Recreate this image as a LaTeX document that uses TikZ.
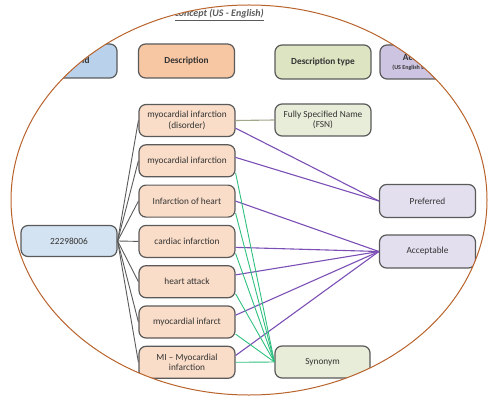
\documentclass[tikz,border=0pt]{standalone}
\usepackage{fontspec}
\setmainfont{Carlito}
\usetikzlibrary{shapes.geometric}
\definecolor{rim}{HTML}{B8632B}
\definecolor{ink}{HTML}{333333}
\definecolor{boxline}{HTML}{5A5A5A}
\definecolor{idhead}{HTML}{B9D1EA}
\definecolor{idfill}{HTML}{D3E3F1}
\definecolor{deschead}{HTML}{F7C6A3}
\definecolor{descfill}{HTML}{FADDC8}
\definecolor{typehead}{HTML}{DCE4C2}
\definecolor{typefill}{HTML}{E8EDD9}
\definecolor{acchead}{HTML}{CCC4E1}
\definecolor{accfill}{HTML}{E3DFEF}
\definecolor{purpleline}{HTML}{7B4FB5}
\definecolor{greenline}{HTML}{2FBF7F}
\definecolor{oliveline}{HTML}{A0A88A}

\begin{document}
\begin{tikzpicture}[x=1pt,y=-1pt,
    box/.style={draw=boxline, line width=1.2pt, rounded corners=7pt,
      minimum width=96pt, minimum height=32pt, inner sep=1pt, align=center,
      text=ink, font=\fontsize{9.3}{10.5}\selectfont},
    head/.style={box, minimum height=34pt, font=\fontsize{9.3}{10.5}\selectfont\bfseries},
    tree/.style={draw=boxline, line width=0.9pt},
    pref/.style={draw=purpleline, line width=1.1pt},
    syn/.style={draw=greenline, line width=0.9pt},
    fsnline/.style={draw=oliveline, line width=1.1pt}]
    \useasboundingbox (0,0) rectangle (489,398);
    \begin{scope}
        \clip (249,200) ellipse [x radius=238pt, y radius=195pt];
        % title
        \node[anchor=east, inner sep=0pt, text=boxline, font=\fontsize{10}{12}\selectfont\bfseries\itshape]
            (title) at (264,15) {\underline{concept (US - English)}};
        % header row
        \node[head, fill=idhead] (hid) at (69,61) {Concept id};
        \node[head, fill=deschead] (hdesc) at (186.5,61) {Description};
        \node[head, fill=typehead] (htype) at (323,62) {Description type};
        \node[head, fill=acchead] (hacc) at (428,62)
            {Acceptability\\[-2pt]{\fontsize{6}{7}\selectfont (US English Language Refset)}};
        % concept and descriptions
        \node[box, fill=idfill, minimum height=31pt] (cid) at (69,241) {22298006};
        \foreach \i/\txt in {1/{myocardial infarction\\(disorder)}, 2/{myocardial infarction},
            3/{Infarction of heart}, 4/{cardiac infarction}, 5/{heart attack},
            6/{myocardial infarct}, 7/{MI \textendash{} Myocardial\\infarction}}
            \node[box, fill=descfill] (d\i) at (187,80.2+40.3*\i) {\txt};
        % types and acceptability
        \node[box, fill=typefill] (fsn) at (323,120) {Fully Specified Name\\(FSN)};
        \node[box, fill=typefill, minimum width=95pt] (syn) at (322.5,362) {Synonym};
        \node[box, fill=accfill, minimum height=33pt] (pref) at (427.5,201) {Preferred};
        \node[box, fill=accfill, minimum height=33pt] (acc) at (427.5,251.5) {Acceptable};
        % connectors
        \foreach \i in {1,...,7}
            \draw[tree] (cid.east) -- (d\i.west);
        \draw[fsnline] (d1.east) -- (fsn.west);
        \draw[pref] (d1.-9) -- (pref.west);
        \draw[pref] (d2.4) -- (pref.west);
        \draw[pref] (d3.east) -- (acc.west);
        \draw[pref] (d4.-7) -- (acc.west);
        \foreach \i in {5,6,7}
            \draw[pref] (d\i.8) -- (acc.west);
        \foreach \i in {2,...,6}
            \draw[syn] (d\i.-14) -- (syn.west);
        \draw[syn] (d7.east) -- (syn.west);
    \end{scope}
    \draw[rim, line width=1pt] (249,200) ellipse [x radius=238pt, y radius=195pt];
\end{tikzpicture}
\end{document}
